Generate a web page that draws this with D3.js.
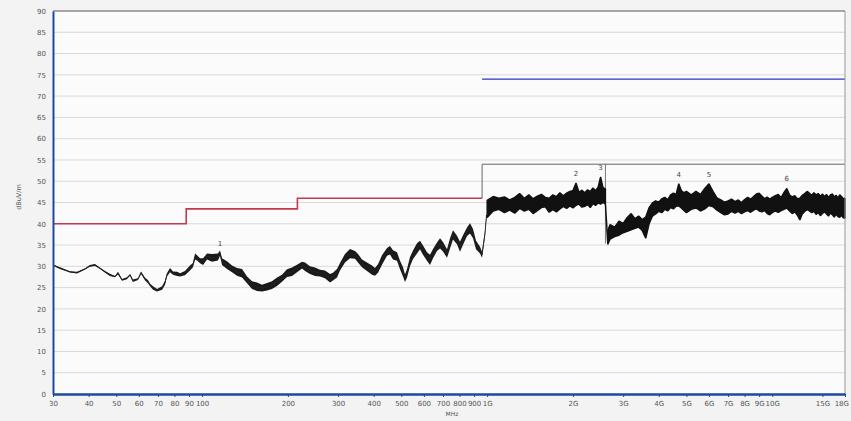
<!DOCTYPE html>
<html>
<head>
<meta charset="utf-8">
<script src="https://cdn.jsdelivr.net/npm/d3@7"></script>
<style>
    body { margin: 0; background: #f3f3f3; }
    svg text { font-family: "DejaVu Sans", Arial, sans-serif; fill: #555; }
</style>
</head>
<body>
<div id="chart"></div>
<script>
// x tick positions (MHz) and their labels
var xTicks = [30, 40, 50, 60, 70, 80, 90, 100, 200, 300, 400, 500, 600, 700, 800, 900,
    1000, 2000, 3000, 4000, 5000, 6000, 7000, 8000, 9000, 10000, 15000, 18000];
var xTickLabels = ['30', '40', '50', '60', '70', '80', '90', '100', '200', '300', '400', '500', '600', '700', '800', '900',
    '1G', '2G', '3G', '4G', '5G', '6G', '7G', '8G', '9G', '10G', '15G', '18G'];
var yTicks = [0, 5, 10, 15, 20, 25, 30, 35, 40, 45, 50, 55, 60, 65, 70, 75, 80, 85, 90];

// limit lines (step form)
var redLimitFreq = [30, 88, 88, 216, 216, 960];
var redLimitVal = [40, 40, 43.5, 43.5, 46, 46];
var avgLimitFreq = [960, 960, 18000];
var avgLimitVal = [46, 54, 54];
var peakLimitFreq = [960, 18000];
var peakLimitVal = [74, 74];

// measured trace below 1 GHz (value and half width of the noise band)
var lowFreq = [30, 31.7, 34.4, 36.4, 38.9, 40.4, 42.1, 43.9, 45.7, 47.5, 49.5, 50.7, 52.4, 54.5, 55.9, 57.2, 59.6, 61.1,
    63.1, 64.6, 65.7, 67.3, 69.5, 72.4, 74.1, 75.3, 77.2, 79.1, 81.7, 83.7, 87.1, 90.7, 92.9, 94.5, 96, 98.4,
    100.8, 104.1, 108.4, 113.7, 115.6, 117.5, 122.3, 127.4, 132.6, 138.1, 143.8, 149.7, 155.9, 162.3, 169,
    175.9, 183.2, 190.7, 198.6, 206.8, 215.3, 224.2, 229.7, 239.1, 249, 259.3, 269.9, 281.1, 287.9, 297.4,
    304.7, 317.2, 330.3, 343.9, 352.4, 363.9, 378.9, 394.6, 404.2, 414.1, 427.7, 445.4, 456.3, 467.5, 482.8,
    494.7, 506.8, 515.1, 523.5, 536.3, 549.5, 567.5, 581.4, 595.7, 615.2, 630.3, 645.9, 666.9, 683.4, 700.2,
    723, 741, 759, 783.9, 803.1, 822.9, 849.9, 870.9, 892.2, 914.1, 944.1, 959.4, 982.8, 995];
var lowVal = [30.3, 29.6, 28.7, 28.5, 29.4, 30.1, 30.3, 29.5, 28.7, 28.0, 27.6, 28.4, 26.8, 27.2, 28.0, 26.6, 27.0, 28.5,
    27.0, 26.4, 25.6, 24.9, 24.4, 24.9, 26.1, 28.0, 29.1, 28.4, 28.2, 28.0, 28.4, 29.6, 30.3, 32.3, 32.0, 31.3,
    31.1, 32.3, 32.0, 32.2, 33.1, 31.1, 30.3, 29.4, 28.7, 28.4, 26.8, 25.6, 25.2, 24.9, 25.2,
    25.6, 26.4, 27.2, 28.4, 28.7, 29.5, 30.3, 29.9, 29.1, 28.7, 28.4, 28.1, 27.2, 27.6, 28.4,
    29.9, 31.9, 33.0, 32.7, 31.9, 30.7, 29.9, 29.1, 28.7, 29.5, 31.5, 33.4, 33.8, 32.7, 32.3,
    30.3, 28.7, 27.2, 28.4, 31.1, 32.7, 34.2, 35.0, 33.8, 32.3, 31.5, 33.0, 34.6, 35.4, 34.6,
    33.0, 35.4, 37.4, 36.2, 34.6, 36.2, 38.1, 38.9, 37.7, 35.0, 33.8, 32.7, 37.7, 42.0];
var lowSpread = [0.15, 0.2, 0.15, 0.2, 0.15, 0.2, 0.25, 0.15, 0.2, 0.25, 0.15, 0.3, 0.2, 0.25, 0.2, 0.3, 0.2, 0.3,
    0.3, 0.4, 0.3, 0.4, 0.3, 0.4, 0.5, 0.4, 0.5, 0.4, 0.5, 0.4, 0.5, 0.6, 0.5, 0.7, 0.6, 0.6,
    0.8, 0.7, 0.9, 0.8, 0.6, 0.8, 0.9, 0.8, 0.9, 1.0, 0.8, 0.9, 1.0, 0.8, 0.9,
    0.9, 1.0, 0.8, 0.9, 1.0, 0.9, 0.8, 1.0, 0.9, 1.0, 0.8, 0.9, 1.0, 0.9, 1.0,
    0.9, 1.0, 1.1, 0.9, 1.0, 0.9, 1.0, 1.1, 0.9, 1.0, 1.1, 0.9, 1.0, 1.1, 1.0,
    1.0, 1.1, 0.9, 1.0, 1.1, 1.0, 1.2, 1.0, 1.1, 1.0, 1.2, 1.1, 1.0, 1.2, 1.1,
    1.0, 1.2, 1.1, 1.0, 1.2, 1.1, 1.0, 1.2, 1.1, 1.0, 0.8, 0.7, 0.6, 0.5];

// measured trace above 1 GHz, drawn as max / min envelope of the sweep
var hiFreq = [1000, 1050, 1100, 1150, 1200, 1250, 1300, 1350, 1400, 1450, 1500, 1550, 1600, 1650, 1700, 1750, 1800,
    1850, 1900, 1950, 2000, 2050, 2100, 2150, 2200, 2250, 2300, 2350, 2400, 2450, 2500, 2550, 2600,
    2650, 2700, 2800, 2900, 3000, 3100, 3200, 3300, 3400, 3500, 3600, 3700, 3800, 3900, 4000, 4100, 4200,
    4300, 4400, 4500, 4600, 4700, 4800, 4900, 5000, 5200, 5400, 5600, 5800, 6000, 6200, 6400, 6600, 6800,
    7000, 7200, 7400, 7600, 7800, 8000, 8200, 8400, 8600, 8800, 9000, 9200, 9400, 9600, 9800, 10000,
    10250, 10500, 10750, 11000, 11250, 11500, 11750, 12000, 12250, 12500, 12750, 13000, 13250, 13500,
    13750, 14000, 14250, 14500, 14750, 15000, 15250, 15500, 15750, 16000, 16250, 16500, 16750, 17000,
    17250, 17500, 17750, 18000];
var hiMax = [45.5, 46.4, 46.0, 46.3, 45.6, 46.2, 47.1, 46.0, 46.8, 45.9, 46.5, 46.9, 46.2, 46.0, 46.8, 46.4, 47.3,
    46.6, 47.2, 47.6, 47.8, 49.6, 47.4, 47.9, 47.3, 48.0, 47.6, 48.4, 47.8, 48.6, 51.0, 48.5, 48.2,
    38.5, 39.8, 39.2, 40.6, 40.1, 41.5, 42.4, 41.2, 41.8, 41.0, 41.6, 43.8, 44.9, 45.4, 45.1, 45.9, 46.2,
    45.7, 46.8, 47.2, 46.9, 49.4, 47.8, 47.3, 47.6, 46.8, 47.6, 46.9, 48.3, 49.4, 47.6, 46.1, 45.6, 45.1,
    45.4, 45.8, 45.2, 45.6, 45.0, 45.7, 46.2, 45.8, 46.4, 47.0, 47.2, 46.5, 45.9, 46.3, 45.8, 46.2,
    46.6, 46.9, 46.2, 47.4, 48.3, 46.8, 46.3, 46.6, 45.9, 46.0, 46.7, 47.1, 47.6, 47.2,
    46.7, 47.3, 46.8, 47.1, 46.5, 47.0, 46.4, 46.9, 46.2, 46.8, 47.0, 46.3, 46.7, 46.1,
    46.8, 46.4, 45.9, 46.0];
var hiMin = [41.5, 43.0, 43.4, 42.6, 43.2, 42.5, 43.6, 43.0, 43.4, 42.4, 43.1, 43.8, 44.0, 42.7, 43.3, 42.8, 43.5,
    44.1, 43.6, 44.2, 43.7, 44.3, 44.6, 43.9, 44.1, 44.5, 43.8, 44.7, 44.3, 44.9, 44.6, 45.0, 44.6,
    35.2, 36.4, 37.0, 37.3, 37.9, 38.2, 38.6, 38.9, 39.2, 38.4, 36.6, 40.0, 41.8, 42.3, 42.9, 42.6, 43.4,
    43.0, 43.8, 43.5, 44.1, 44.2, 43.7, 43.1, 42.6, 43.4, 43.7, 43.0, 43.5, 44.3, 44.0, 43.2, 42.6, 42.1,
    42.3, 42.9, 42.5, 42.9, 42.4, 42.8, 43.1, 42.7, 43.2, 43.5, 43.0, 42.8, 43.1, 42.4, 42.1, 42.6,
    43.0, 42.7, 43.1, 43.4, 43.7, 43.0, 42.4, 42.8, 42.0, 40.9, 42.3, 42.9, 43.3, 43.0,
    42.6, 42.9, 42.2, 42.6, 41.9, 42.4, 42.8, 42.3, 41.8, 42.5, 42.1, 41.6, 42.2, 41.7,
    41.5, 42.0, 41.4, 41.3];

// sweep band change line
var bandFreq = [2600, 2600];
var bandVal = [54, 35.4];

// markers
var markerFreq = [115.6, 2050, 2500, 4700, 6000, 11250];
var markerVal = [33.1, 49.6, 51.0, 49.4, 49.4, 48.3];
var markerLabel = ['1', '2', '3', '4', '5', '6'];

function drawChart() {
    var W = 851, H = 421;
    var svg = d3.select('#chart').append('svg').attr('width', W).attr('height', H);

    var x = d3.scaleLog().domain([30, 18000]).range([53, 845]);
    var y = d3.scaleLinear().domain([0, 90]).range([394, 11]);

    svg.append('rect').attr('x', 53).attr('y', 11).attr('width', 792).attr('height', 383).attr('fill', '#fbfbfb');

    // horizontal grid
    svg.append('g').selectAll('line').data(yTicks.slice(1, -1)).enter().append('line')
        .attr('x1', x(30)).attr('x2', x(18000))
        .attr('y1', function(d) { return y(d); }).attr('y2', function(d) { return y(d); })
        .attr('stroke', '#d9d9d9').attr('stroke-width', 1);

    var line = d3.line().x(function(d) { return x(d[0]); }).y(function(d) { return y(d[1]); });
    function pairs(f, v) { return f.map(function(d, i) { return [d, v[i]]; }); }

    svg.append('path').attr('d', line(pairs(redLimitFreq, redLimitVal)))
        .attr('fill', 'none').attr('stroke', '#c23a4e').attr('stroke-width', 1.6);
    svg.append('path').attr('d', line(pairs(avgLimitFreq, avgLimitVal)))
        .attr('fill', 'none').attr('stroke', '#666').attr('stroke-width', 1);
    svg.append('path').attr('d', line(pairs(peakLimitFreq, peakLimitVal)))
        .attr('fill', 'none').attr('stroke', '#2a36c4').attr('stroke-width', 1.4);
    svg.append('path').attr('d', line(pairs(bandFreq, bandVal)))
        .attr('fill', 'none').attr('stroke', '#777').attr('stroke-width', 1);

    var area = d3.area().x(function(d) { return x(d[0]); })
        .y0(function(d) { return y(d[2]); }).y1(function(d) { return y(d[1]); });

    // trace below 1G
    var low = lowFreq.map(function(d, i) { return [d, lowVal[i] + lowSpread[i], lowVal[i] - lowSpread[i]]; });
    svg.append('path').attr('d', area(low))
        .attr('fill', '#1a1a1a').attr('stroke', 'none');
    svg.append('path').attr('d', line(pairs(lowFreq, lowVal)))
        .attr('fill', 'none').attr('stroke', '#222').attr('stroke-width', 0.9);

    // trace above 1G
    var hi = hiFreq.map(function(d, i) { return [d, hiMax[i], hiMin[i]]; });
    svg.append('path').attr('d', area(hi.slice(0, 33)))
        .attr('fill', '#111').attr('stroke', '#111').attr('stroke-width', 1.4).attr('stroke-linejoin', 'bevel');
    svg.append('path').attr('d', area(hi.slice(33)))
        .attr('fill', '#111').attr('stroke', '#111').attr('stroke-width', 1.4).attr('stroke-linejoin', 'bevel');
    // joins: 1G jump and 2.6G drop
    svg.append('path').attr('d', line([[lowFreq[lowFreq.length - 1], lowVal[lowVal.length - 1]], [hiFreq[0], hiMin[0]]]))
        .attr('stroke', '#111').attr('stroke-width', 1.5);
    svg.append('path').attr('d', line([[hiFreq[32], hiMin[32]], [hiFreq[33], hiMin[33]]]))
        .attr('stroke', '#111').attr('stroke-width', 1.5);

    // markers
    svg.append('g').selectAll('text').data(markerFreq).enter().append('text')
        .attr('x', function(d) { return x(d); })
        .attr('y', function(d, i) { return y(markerVal[i]) - 7; })
        .attr('text-anchor', 'middle').attr('font-size', 7).style('fill', '#444')
        .text(function(d, i) { return markerLabel[i]; });

    // frame
    svg.append('line').attr('x1', 53).attr('x2', 845).attr('y1', 11).attr('y2', 11)
        .attr('stroke', '#555').attr('stroke-width', 1);
    svg.append('line').attr('x1', 845).attr('x2', 845).attr('y1', 11).attr('y2', 394)
        .attr('stroke', '#999').attr('stroke-width', 1);

    var xAxis = d3.axisBottom(x).tickValues(xTicks).tickSize(3).tickSizeOuter(0)
        .tickFormat(function(d, i) { return xTickLabels[i]; });
    var gx = svg.append('g').attr('transform', 'translate(0,394)').call(xAxis);
    gx.select('.domain').attr('stroke', '#1d4a9c').attr('stroke-width', 2.5);
    gx.selectAll('.tick line').attr('stroke', '#1d4a9c');
    gx.selectAll('text').attr('font-size', 7).attr('dy', '0.9em').style('fill', '#555');
    // last label sits at the window edge
    gx.selectAll('.tick text').filter(function(d) { return d === 18000; })
        .attr('text-anchor', 'end').attr('dx', '0.5em');

    var yAxis = d3.axisLeft(y).tickValues(yTicks).tickSize(0).tickSizeOuter(0).tickPadding(7);
    var gy = svg.append('g').attr('transform', 'translate(53,0)').call(yAxis);
    gy.select('.domain').attr('stroke', '#1d4a9c').attr('stroke-width', 2);
    gy.selectAll('text').attr('font-size', 7).style('fill', '#555');

    svg.append('text').attr('x', 452).attr('y', 416).attr('text-anchor', 'middle')
        .attr('font-size', 6).text('MHz');
    svg.append('text').attr('transform', 'translate(21,197) rotate(-90)').attr('text-anchor', 'middle')
        .attr('font-size', 6.5).text('dBuV/m');
}

drawChart();
</script>
</body>
</html>
